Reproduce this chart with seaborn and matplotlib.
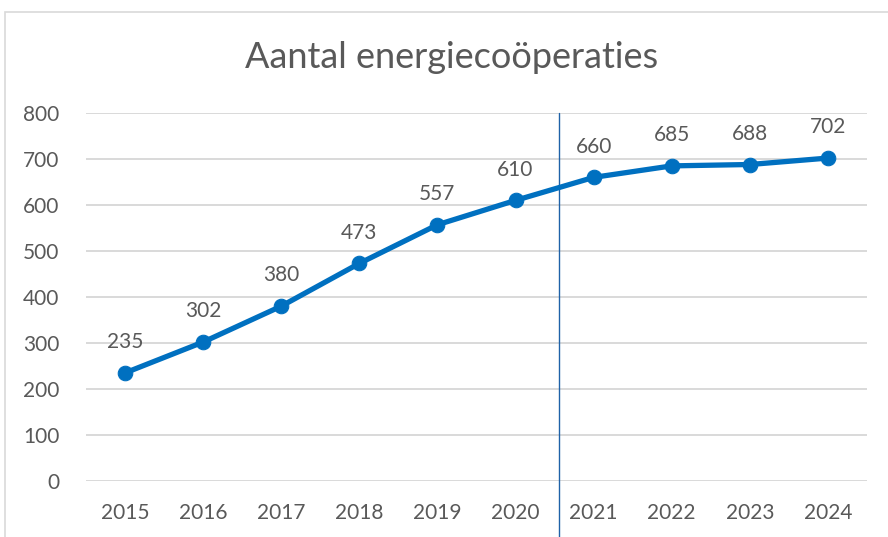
import matplotlib
matplotlib.use("Agg")
import matplotlib.pyplot as plt
import seaborn as sns
import pandas as pd
from matplotlib.patches import Rectangle

years = ["2015", "2016", "2017", "2018", "2019", "2020", "2021", "2022", "2023", "2024"]
counts = [235, 302, 380, 473, 557, 610, 660, 685, 688, 702]
y_ticks = [0, 100, 200, 300, 400, 500, 600, 700, 800]
title = "Aantal energiecoöperaties"

_TEXT = "#595959"
_LINE = "#0070C0"
_GRID = "#d9d9d9"

sns.set_style("white")
plt.rcParams["font.family"] = ["Lato", "DejaVu Sans"]

df = pd.DataFrame({"year": years, "count": counts})
df["pos"] = range(len(df))

fig = plt.figure(figsize=(8.88, 5.37), dpi=100)
ax = fig.add_axes([0.0968, 0.1043, 0.8795, 0.6853])

# chart frame (cropped on right and bottom)
fig.add_artist(Rectangle((5 / 888, -0.1), 1.2, 1 - 12 / 537 + 0.1,
                         transform=fig.transFigure, fill=False,
                         edgecolor=_GRID, lw=1.2))

for y in y_ticks:
    ax.axhline(y, color=_GRID, lw=1.4, zorder=0)

sns.lineplot(data=df, x="pos", y="count", ax=ax, color=_LINE, lw=3.8,
             marker="o", markersize=10.5, markeredgecolor=_LINE, zorder=3)

for p, c in zip(df["pos"], df["count"]):
    ax.annotate(str(c), (p, c), xytext=(0, 15), textcoords="offset points",
                ha="center", va="bottom", fontsize=15, color=_TEXT)

# separator between 2020 and 2021
ax.axvline(5.56, ymin=-0.2, ymax=1, color="#1f62a8", lw=1.0,
           clip_on=False, zorder=2)

ax.set_xlim(-0.5, len(years) - 0.5)
ax.set_ylim(0, 800)
ax.set_xticks(list(df["pos"]))
ax.set_xticklabels(years)
ax.set_yticks(y_ticks)
ax.tick_params(axis="x", length=0, pad=16, labelsize=15, labelcolor=_TEXT)
ax.tick_params(axis="y", length=0, pad=19, labelsize=15, labelcolor=_TEXT)
for s in ax.spines.values():
    s.set_visible(False)
ax.set_xlabel("")
ax.set_ylabel("")

fig.text(452 / 888, 1 - 58 / 537, title, ha="center", va="center",
         fontsize=26, color=_TEXT, fontweight="normal")

fig.savefig("out.png", dpi=100)
